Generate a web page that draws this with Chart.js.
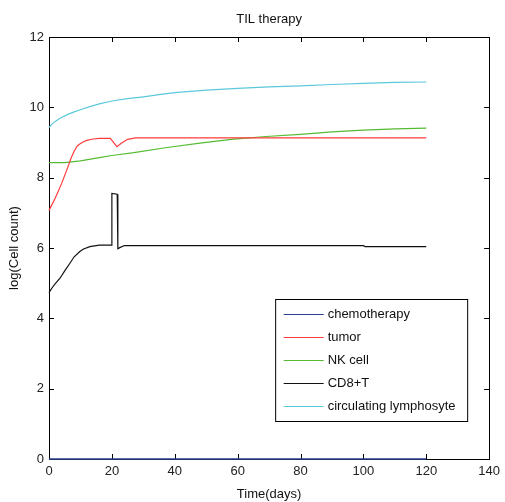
<!DOCTYPE html>
<html>
<head>
<meta charset="utf-8">
<script src="https://cdn.jsdelivr.net/npm/chart.js@4.4.1/dist/chart.umd.min.js"></script>
<style>
  html, body { margin: 0; padding: 0; background: #fff; }
  #wrap { width: 505px; height: 502px; }
</style>
</head>
<body>
<div id="wrap"><canvas id="tilChart" width="505" height="502"></canvas></div>
<script>
// values (time in days, log cell count)
const chemoDays = [0, 120];
const chemoVals = [0, 0];

const tumorDays = [0, 2, 4, 6, 7, 8, 9, 10, 11, 12, 14, 16, 19.5, 21.6, 23, 25, 27.5, 60, 120];
const tumorVals = [7.07, 7.42, 7.83, 8.3, 8.55, 8.75, 8.9, 8.97, 9.02, 9.06, 9.1, 9.12, 9.12, 8.88, 8.98, 9.09, 9.13, 9.13, 9.13];

const nkDays = [0, 5, 10, 16, 20, 27, 37, 48, 58, 69, 80, 90, 100, 110, 120];
const nkVals = [8.43, 8.43, 8.48, 8.57, 8.63, 8.71, 8.85, 8.98, 9.09, 9.17, 9.23, 9.3, 9.35, 9.39, 9.41];

const cd8Days = [0, 1, 2, 3.5, 5, 6.6, 8, 9.8, 11, 13, 16, 19.9, 20, 21.7, 21.9, 22.5, 24, 30, 100, 100.5, 120];
const cd8Vals = [4.73, 4.87, 4.99, 5.14, 5.35, 5.56, 5.75, 5.9, 5.97, 6.04, 6.08, 6.08, 7.55, 7.53, 5.98, 6.01, 6.07, 6.07, 6.07, 6.04, 6.04];

const lymphDays = [0, 1, 2, 3, 4, 6, 8, 10, 13, 16, 20, 25, 30, 35, 40, 50, 60, 70, 80, 90, 100, 110, 120];
const lymphVals = [9.42, 9.53, 9.6, 9.66, 9.71, 9.8, 9.87, 9.93, 10.02, 10.1, 10.18, 10.25, 10.3, 10.36, 10.42, 10.49, 10.54, 10.58, 10.61, 10.65, 10.68, 10.71, 10.72];

const seriesNames = ["chemotherapy", "tumor", "NK cell", "CD8+T", "circulating lymphosyte"];
const seriesColors = ["#2a3f8f", "#ff3b3b", "#55bb33", "#111111", "#5cc8dc"];

const xTicks = [0, 20, 40, 60, 80, 100, 120, 140];
const yTicks = [0, 2, 4, 6, 8, 10, 12];

const FONT = "'Liberation Sans', Arial, sans-serif";

function toPoints(days, vals){
    return days.map((d, i) => ({x: d, y: vals[i]}));
}

const allSeries = [
    toPoints(chemoDays, chemoVals),
    toPoints(tumorDays, tumorVals),
    toPoints(nkDays, nkVals),
    toPoints(cd8Days, cd8Vals),
    toPoints(lymphDays, lymphVals)
];

// box round the axes with inward ticks, like matlab
const boxPlugin = {
    id: 'matlabBox',
    beforeDatasetsDraw(chart){
        const ctx = chart.ctx;
        const a = chart.chartArea;
        const xs = chart.scales.x, ys = chart.scales.y;
        const tl = 5;
        ctx.save();
        ctx.strokeStyle = '#000';
        ctx.lineWidth = 1;
        ctx.strokeRect(Math.round(a.left) + 0.5, Math.round(a.top) + 0.5, Math.round(a.right - a.left), Math.round(a.bottom - a.top));
        ctx.beginPath();
        xTicks.forEach(v => {
            let px = Math.round(xs.getPixelForValue(v)) + 0.5;
            ctx.moveTo(px, a.bottom); ctx.lineTo(px, a.bottom - tl);
            ctx.moveTo(px, a.top); ctx.lineTo(px, a.top + tl);
        });
        yTicks.forEach(v => {
            let py = Math.round(ys.getPixelForValue(v)) + 0.5;
            ctx.moveTo(a.left, py); ctx.lineTo(a.left + tl, py);
            ctx.moveTo(a.right, py); ctx.lineTo(a.right - tl, py);
        });
        ctx.stroke();
        ctx.restore();
    },
    afterDraw(chart){
        // legend box in the lower right of the axes
        const ctx = chart.ctx;
        const a = chart.chartArea;
        const bx = a.right - 213.5, by = a.bottom - 159.5;
        const bw = 192, bh = 122;
        ctx.save();
        ctx.fillStyle = '#fff';
        ctx.fillRect(bx, by, bw, bh);
        ctx.strokeStyle = '#000';
        ctx.lineWidth = 1;
        ctx.strokeRect(bx, by, bw, bh);
        ctx.font = '13px ' + FONT;
        ctx.textBaseline = 'middle';
        ctx.textAlign = 'left';
        chart.data.datasets.forEach((ds, i) => {
            let y = by + 15 + i * 23;
            ctx.strokeStyle = ds.borderColor;
            ctx.lineWidth = 1.2;
            ctx.beginPath();
            ctx.moveTo(bx + 8, y);
            ctx.lineTo(bx + 48, y);
            ctx.stroke();
            ctx.fillStyle = '#111';
            ctx.fillText(ds.label, bx + 52, y);
        });
        ctx.restore();
    }
};

const datasets = allSeries.map((pts, i) => ({
    label: seriesNames[i],
    data: pts,
    borderColor: seriesColors[i],
    backgroundColor: seriesColors[i],
    borderWidth: i == 0 ? 1.6 : 1.2,
    pointRadius: 0,
    tension: 0,
    fill: false,
    clip: 4,
    order: i == 0 ? -1 : i
}));

const ctx = document.getElementById('tilChart').getContext('2d');
const chart = new Chart(ctx, {
    type: 'line',
    data: { datasets: datasets },
    options: {
        responsive: false,
        animation: false,
        devicePixelRatio: 1,
        layout: { padding: { left: 0, right: 14, top: 0, bottom: 0 } },
        plugins: {
            legend: { display: false },
            tooltip: { enabled: false },
            title: {
                display: true,
                text: 'TIL therapy',
                fullSize: false,
                color: '#111',
                font: { family: FONT, size: 13, weight: 'normal' },
                padding: { top: 12, bottom: 9.4 }
            }
        },
        scales: {
            x: {
                type: 'linear',
                min: 0,
                max: 140,
                afterFit: (scale) => { scale.height = 43; },
                afterBuildTicks: (scale) => { scale.ticks = xTicks.map(v => ({value: v})); },
                grid: { display: false, drawTicks: false },
                border: { display: false },
                ticks: { color: '#222', padding: 5, font: { family: FONT, size: 13 }, maxRotation: 0 },
                title: { display: true, text: 'Time(days)', color: '#111', padding: { top: 0, bottom: 0 }, font: { family: FONT, size: 13 } }
            },
            y: {
                type: 'linear',
                min: 0,
                max: 12,
                afterFit: (scale) => { scale.width = 49; },
                afterBuildTicks: (scale) => { scale.ticks = yTicks.map(v => ({value: v})); },
                grid: { display: false, drawTicks: false },
                border: { display: false },
                ticks: { color: '#222', padding: 5, font: { family: FONT, size: 13 } },
                title: { display: true, text: 'log(Cell count)', color: '#111', padding: { top: 7, bottom: 0 }, font: { family: FONT, size: 13 } }
            }
        }
    },
    plugins: [boxPlugin]
});
</script>
</body>
</html>
